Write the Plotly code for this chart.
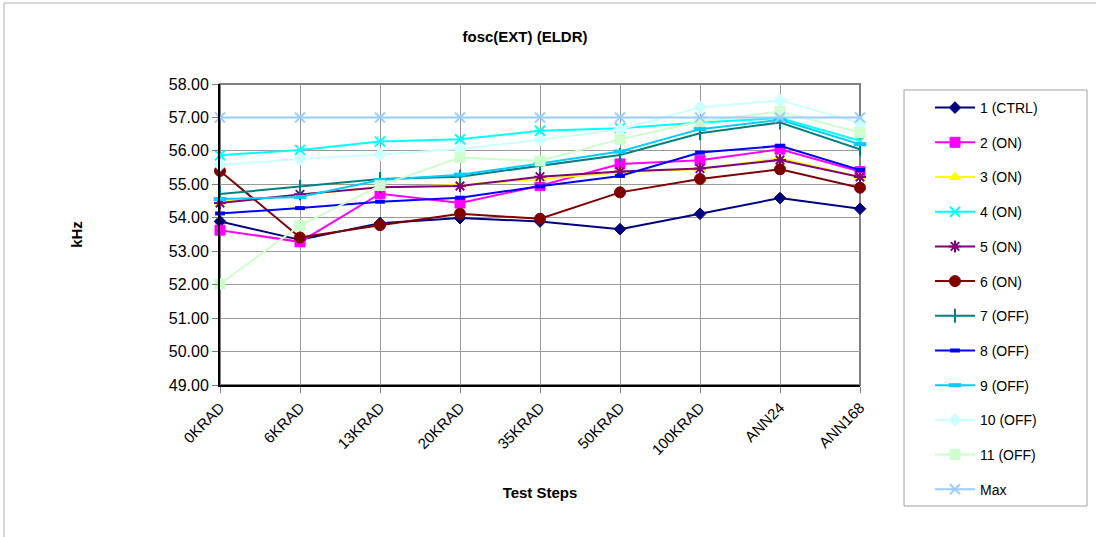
import plotly.graph_objects as go

steps = ["0KRAD", "6KRAD", "13KRAD", "20KRAD", "35KRAD", "50KRAD", "100KRAD", "ANN24", "ANN168"]

s1_ctrl = [53.89, 53.34, 53.84, 53.99, 53.89, 53.66, 54.12, 54.59, 54.27]
s2_on = [53.63, 53.28, 54.72, 54.44, 54.96, 55.61, 55.72, 56.05, 55.38]
s3_on = [54.48, 54.68, 54.92, 54.98, 55.16, 55.36, 55.46, 55.78, 55.22]
s4_on = [55.87, 56.03, 56.28, 56.35, 56.60, 56.68, 56.85, 56.98, 56.30]
s5_on = [54.44, 54.70, 54.91, 54.95, 55.23, 55.38, 55.47, 55.73, 55.22]
s6_on = [55.40, 53.41, 53.78, 54.12, 53.97, 54.76, 55.16, 55.45, 54.90]
s7_off = [54.71, 54.93, 55.16, 55.23, 55.56, 55.88, 56.53, 56.85, 56.05]
s8_off = [54.13, 54.29, 54.48, 54.60, 54.94, 55.25, 55.95, 56.15, 55.43]
s9_off = [54.56, 54.62, 55.13, 55.29, 55.62, 55.98, 56.65, 56.93, 56.20]
s10_off = [55.58, 55.76, 55.89, 56.06, 56.33, 56.64, 57.30, 57.51, 56.83]
s11_off = [52.02, 53.77, 54.96, 55.80, 55.70, 56.35, 56.88, 57.18, 56.55]
s_max = [57.0, 57.0, 57.0, 57.0, 57.0, 57.0, 57.0, 57.0, 57.0]

series = [
    ("1 (CTRL)", s1_ctrl, "#000080", "diamond", 9, 1),
    ("2 (ON)", s2_on, "#FF00FF", "square", 10, 1),
    ("3 (ON)", s3_on, "#FFFF00", "triangle-up", 10, 1),
    ("4 (ON)", s4_on, "#00FFFF", "x-thin-open", 10, 2),
    ("5 (ON)", s5_on, "#800080", "asterisk-open", 10, 2),
    ("6 (ON)", s6_on, "#800000", "circle", 11, 1),
    ("7 (OFF)", s7_off, "#008080", "line-ns-open", 10, 2),
    ("8 (OFF)", s8_off, "#0000FF", "line-ew-open", 7, 4),
    ("9 (OFF)", s9_off, "#00CCFF", "line-ew-open", 9, 4),
    ("10 (OFF)", s10_off, "#CCFFFF", "diamond", 10, 1),
    ("11 (OFF)", s11_off, "#CCFFCC", "square", 10, 1),
    ("Max", s_max, "#99CCFF", "x-thin-open", 10, 2),
]

fig = go.Figure()
for i, (name, vals, color, sym, size, mlw) in enumerate(series):
    fig.add_trace(go.Scatter(
        x=steps, y=vals, name=name, mode="lines+markers",
        line=dict(color=color, width=2),
        marker=dict(symbol=sym, size=size, color=color,
                    line=dict(color=color, width=mlw)),
        cliponaxis=False, legendgroup=f"g{i}",
    ))

font = "Liberation Sans, Arial, sans-serif"
fig.update_layout(
    width=1096, height=537,
    margin=dict(l=220, r=236, t=84, b=152),
    paper_bgcolor="white", plot_bgcolor="white",
    font=dict(family=font, size=14, color="black"),
    title=dict(text="<b>fosc(EXT) (ELDR)</b>", x=(525 / 1096), xanchor="center",
               y=1 - 37 / 537, yanchor="middle", font=dict(size=15)),
    showlegend=True,
    legend=dict(x=(930 - 220) / 640, y=(385 - 92) / 301, xanchor="left", yanchor="top",
                bgcolor="rgba(0,0,0,0)", borderwidth=0, tracegroupgap=13.5,
                font=dict(size=14), itemwidth=40, maxheight=500),
    xaxis=dict(
        type="category", range=[0, 8], showgrid=True, gridcolor="#9a9a9a", gridwidth=1,
        showline=True, linecolor="black", linewidth=2, ticks="outside", ticklen=6,
        tickcolor="#808080", tickangle=-45, tickfont=dict(size=15),
        title=dict(text="<b>Test Steps</b>", font=dict(size=15), standoff=30),
    ),
    yaxis=dict(
        range=[49, 58], dtick=1, tickformat=".2f", showgrid=True, gridcolor="#9a9a9a",
        gridwidth=1, showline=True, linecolor="black", linewidth=2, ticks="outside",
        ticklen=6, tickcolor="#808080", tickfont=dict(size=16), zeroline=False,
        title=dict(text="<b>kHz</b>", font=dict(size=15), standoff=83),
    ),
    shapes=[
        dict(type="rect", xref="paper", yref="paper", x0=0, x1=1, y0=0, y1=1,
             line=dict(color="#808080", width=2), layer="below"),
        dict(type="rect", xref="paper", yref="paper",
             x0=(904 - 220) / 640, x1=(1087 - 220) / 640,
             y0=(385 - 506) / 301, y1=(385 - 90) / 301,
             line=dict(color="#a0a0a0", width=1)),
        dict(type="rect", xref="paper", yref="paper",
             x0=(4 - 220) / 640, x1=(1100 - 220) / 640,
             y0=(385 - 540) / 301, y1=(385 - 3) / 301,
             line=dict(color="#b0b0b0", width=1)),
    ],
)

fig.write_html("out.html", config={"displayModeBar": False},
               post_script="document.body.style.margin='0';")
